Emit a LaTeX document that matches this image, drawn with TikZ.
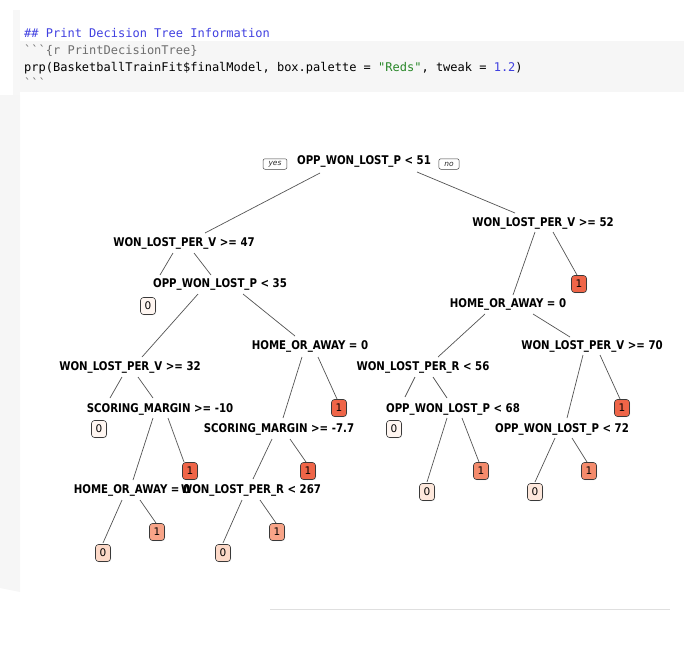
\documentclass[tikz,border=0pt]{standalone}
\usepackage{fontspec}
\setmainfont{DejaVu Sans}
\newfontfamily\lblfont[FakeStretch=0.85]{DejaVu Sans}
\newfontfamily\codefont{DejaVu Sans Mono}
\usetikzlibrary{shadows}
\definecolor{codeblue}{RGB}{64,64,224}
\definecolor{codegray}{RGB}{110,110,110}
\definecolor{codegreen}{RGB}{40,135,40}
\definecolor{redA}{RGB}{239,101,72}
\definecolor{redB}{RGB}{244,139,108}
\definecolor{redC}{RGB}{248,164,136}
\definecolor{pinkA}{RGB}{253,217,200}
\definecolor{pinkB}{RGB}{254,232,220}
\definecolor{pinkC}{RGB}{255,246,241}
\newcommand{\bq}{\symbol{96}}

\begin{document}
\begin{tikzpicture}[x=1pt, y=-1pt,
    code/.style={anchor=base west, inner sep=0pt, font=\codefont\fontsize{12}{14}\selectfont},
    split/.style={inner sep=0pt, text height=8.5pt, text depth=0pt, font=\lblfont\bfseries\fontsize{12}{13}\selectfont},
    leaf/.style={draw=gray!45!black, line width=0.6pt, rounded corners=3pt, minimum width=15pt, minimum height=17pt, inner sep=0pt,
        font=\fontsize{10.5}{10.5}\selectfont, drop shadow={opacity=0.25, shadow xshift=0.6pt, shadow yshift=-0.6pt}},
    yesno/.style={draw=gray!50!black, line width=0.5pt, rounded corners=2pt, inner xsep=5.5pt, inner ysep=0pt, minimum height=10.5pt,
        text=gray!30!black, font=\itshape\fontsize{7.5}{8}\selectfont},
    branch/.style={draw=gray!65!black, line width=0.7pt}]
    \useasboundingbox (0,0) rectangle (688,648);
    % code chunk and margin
    \fill[gray!7] (18,41) rectangle (684,92);
    \fill[gray!6] (13,10) rectangle (20,95);
    \fill[gray!7] (0,95) -- (20,95) -- (20,592) -- (0,588) -- cycle;
    \draw[gray!25] (270,609) -- (670,609);
    \node[code, text=codeblue] (hdr) at (24,37) {\#\# Print Decision Tree Information};
    \node[code, text=codegray] (chunk) at (24,54) {\bq\bq\bq\{r PrintDecisionTree\}};
    \node[code] (call) at (24,71) {prp(BasketballTrainFit\$finalModel, box.palette = \textcolor{codegreen}{"Reds"}, tweak = \textcolor{codeblue}{1.2})};
    \node[code, text=codegray] (fence) at (24,87) {\bq\bq\bq};
    % splits
    \node[split] (root) at (364,160) {OPP\_WON\_LOST\_P < 51};
    \node[yesno] (yes) at (275,164) {yes};
    \node[yesno] (no) at (449,164) {no};
    \node[split] (wlv47) at (184,242) {WON\_LOST\_PER\_V >= 47};
    \node[split] (opp35) at (220,283) {OPP\_WON\_LOST\_P < 35};
    \node[split] (wlv32) at (130,366) {WON\_LOST\_PER\_V >= 32};
    \node[split] (home1) at (310,345) {HOME\_OR\_AWAY = 0};
    \node[split] (sm10) at (160,408) {SCORING\_MARGIN >= -10};
    \node[split] (sm77) at (279,428) {SCORING\_MARGIN >= -7.7};
    \node[split] (home2) at (132,489) {HOME\_OR\_AWAY = 0};
    \node[split] (wlr267) at (251,489) {WON\_LOST\_PER\_R < 267};
    \node[split] (wlv52) at (543,222) {WON\_LOST\_PER\_V >= 52};
    \node[split] (home3) at (508,303) {HOME\_OR\_AWAY = 0};
    \node[split] (wlr56) at (423,366) {WON\_LOST\_PER\_R < 56};
    \node[split] (wlv70) at (592,345) {WON\_LOST\_PER\_V >= 70};
    \node[split] (opp68) at (453,408) {OPP\_WON\_LOST\_P < 68};
    \node[split] (opp72) at (562,428) {OPP\_WON\_LOST\_P < 72};
    % leaves
    \node[leaf, fill=pinkC] (leaf1) at (148,306) {0};
    \node[leaf, fill=pinkC] (leaf2) at (99,429) {0};
    \node[leaf, fill=redA] (leaf3) at (339,408) {1};
    \node[leaf, fill=redA] (leaf4) at (190,471) {1};
    \node[leaf, fill=redA] (leaf5) at (308,471) {1};
    \node[leaf, fill=pinkA] (leaf6) at (103,553) {0};
    \node[leaf, fill=redC] (leaf7) at (157,532) {1};
    \node[leaf, fill=pinkA] (leaf8) at (223,553) {0};
    \node[leaf, fill=redC] (leaf9) at (277,532) {1};
    \node[leaf, fill=redA] (leaf10) at (579,284) {1};
    \node[leaf, fill=pinkC] (leaf11) at (394,429) {0};
    \node[leaf, fill=redA] (leaf12) at (622,408) {1};
    \node[leaf, fill=pinkB] (leaf13) at (427,492) {0};
    \node[leaf, fill=redB] (leaf14) at (481,471) {1};
    \node[leaf, fill=pinkB] (leaf15) at (535,492) {0};
    \node[leaf, fill=redB] (leaf16) at (589,471) {1};
    % left subtree
    \draw[branch] ([shift={(-44,13)}]root.center) -- ([shift={(21,-9)}]wlv47.center);
    \draw[branch] ([shift={(-11,11)}]wlv47.center) -- ([shift={(12,-31)}]leaf1.center);
    \draw[branch] ([shift={(10,11)}]wlv47.center) -- ([shift={(-9,-8)}]opp35.center);
    \draw[branch] ([shift={(-22,11)}]opp35.center) -- ([shift={(12,-9)}]wlv32.center);
    \draw[branch] ([shift={(23,11)}]opp35.center) -- ([shift={(-15,-9)}]home1.center);
    \draw[branch] ([shift={(-8,11)}]wlv32.center) -- ([shift={(11,-31)}]leaf2.center);
    \draw[branch] ([shift={(8,11)}]wlv32.center) -- ([shift={(-7,-10)}]sm10.center);
    \draw[branch] ([shift={(-7,10)}]sm10.center) -- ([shift={(1,-9)}]home2.center);
    \draw[branch] ([shift={(8,10)}]sm10.center) -- ([shift={(-6,-9)}]leaf4.center);
    \draw[branch] ([shift={(-8,12)}]home1.center) -- ([shift={(4,-10)}]sm77.center);
    \draw[branch] ([shift={(8,12)}]home1.center) -- ([shift={(-2,-9)}]leaf3.center);
    \draw[branch] ([shift={(-7,11)}]sm77.center) -- ([shift={(2,-10)}]wlr267.center);
    \draw[branch] ([shift={(11,11)}]sm77.center) -- ([shift={(-2,-9)}]leaf5.center);
    \draw[branch] ([shift={(-10,11)}]home2.center) -- ([shift={(0,-10)}]leaf6.center);
    \draw[branch] ([shift={(8,11)}]home2.center) -- ([shift={(-1,-9)}]leaf7.center);
    \draw[branch] ([shift={(-9,11)}]wlr267.center) -- ([shift={(0,-10)}]leaf8.center);
    \draw[branch] ([shift={(9,11)}]wlr267.center) -- ([shift={(-1,-9)}]leaf9.center);
    % right subtree
    \draw[branch] ([shift={(53,12)}]root.center) -- ([shift={(-28,-9)}]wlv52.center);
    \draw[branch] ([shift={(-8,10)}]wlv52.center) -- ([shift={(5,-8)}]home3.center);
    \draw[branch] ([shift={(10,10)}]wlv52.center) -- ([shift={(-2,-9)}]leaf10.center);
    \draw[branch] ([shift={(-23,11)}]home3.center) -- ([shift={(15,-9)}]wlr56.center);
    \draw[branch] ([shift={(25,11)}]home3.center) -- ([shift={(-22,-8)}]wlv70.center);
    \draw[branch] ([shift={(-8,11)}]wlr56.center) -- ([shift={(11,-32)}]leaf11.center);
    \draw[branch] ([shift={(10,11)}]wlr56.center) -- ([shift={(-6,-10)}]opp68.center);
    \draw[branch] ([shift={(-9,10)}]wlv70.center) -- ([shift={(5,-10)}]opp72.center);
    \draw[branch] ([shift={(8,10)}]wlv70.center) -- ([shift={(-2,-9)}]leaf12.center);
    \draw[branch] ([shift={(-6,10)}]opp68.center) -- ([shift={(0,-10)}]leaf13.center);
    \draw[branch] ([shift={(9,10)}]opp68.center) -- ([shift={(-2,-9)}]leaf14.center);
    \draw[branch] ([shift={(-7,10)}]opp72.center) -- ([shift={(0,-10)}]leaf15.center);
    \draw[branch] ([shift={(10,10)}]opp72.center) -- ([shift={(-2,-9)}]leaf16.center);
\end{tikzpicture}
\end{document}
